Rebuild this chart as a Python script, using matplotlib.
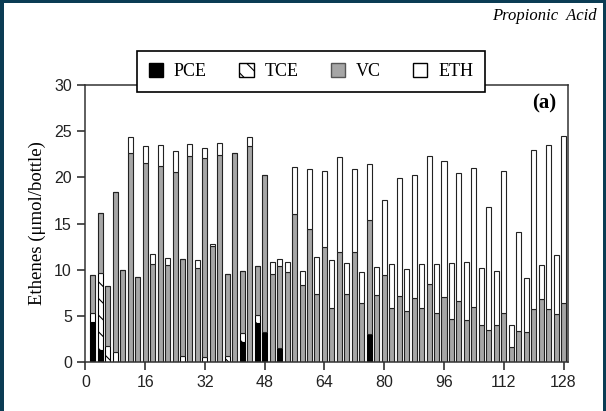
import numpy as np
import matplotlib.pyplot as plt
from matplotlib.patches import Patch, Rectangle

# sampling days (every 2 days)
days = list(range(2, 130, 2))

# ethene species, umol/bottle
pce = [4.3, 1.3, 0, 0, 0, 0, 0, 0, 0, 0, 0, 0, 0, 0, 0, 0,
       0, 0, 0, 0, 2.2, 0, 4.2, 3.3, 0, 1.5, 0, 0, 0, 0, 0, 0,
       0, 0, 0, 0, 0, 3.0, 0, 0, 0, 0, 0, 0, 0, 0, 0, 0,
       0, 0, 0, 0, 0, 0, 0, 0, 0, 0, 0, 0, 0, 0, 0, 0]
tce = [1.0, 8.3, 1.7, 1.1, 0, 0, 0, 0, 0, 0, 0, 0, 0.6, 0, 0, 0.5,
       0, 0, 0.7, 0, 0.9, 0, 0.9, 0, 0, 0, 0, 0, 0, 0, 0, 0,
       0, 0, 0, 0, 0, 0, 0, 0, 0, 0, 0, 0, 0, 0, 0, 0,
       0, 0, 0, 0, 0, 0, 0, 0, 0, 0, 0, 0, 0, 0, 0, 0]
vc = [4.1, 6.5, 6.5, 17.3, 10.0, 22.6, 9.2, 21.6, 10.6, 21.2, 10.5, 20.6, 10.6, 22.3, 10.2, 21.6,
      12.6, 22.4, 8.8, 22.6, 6.8, 23.4, 5.3, 16.9, 9.5, 8.9, 9.8, 16.0, 8.3, 14.4, 7.4, 12.5,
      5.8, 11.9, 7.4, 11.9, 6.4, 12.4, 7.3, 9.4, 5.8, 7.2, 5.5, 6.9, 5.8, 8.4, 5.3, 7.0,
      4.7, 6.6, 4.5, 6.0, 4.0, 3.5, 4.0, 5.3, 1.6, 3.4, 3.3, 5.7, 6.8, 5.7, 5.2, 6.4]
eth = [0, 0, 0, 0, 0, 1.8, 0, 1.8, 1.1, 2.3, 0.8, 2.3, 0, 1.3, 0.8, 1.1,
       0.2, 1.3, 0, 0, 0, 1.0, 0, 0, 1.3, 0.8, 1.0, 5.1, 1.6, 6.5, 4.0, 8.2,
       5.2, 10.3, 3.3, 9.0, 3.3, 6.0, 3.0, 8.1, 4.8, 12.7, 4.6, 13.3, 4.8, 13.9, 5.3, 14.8,
       6.0, 13.9, 6.3, 15.0, 6.2, 13.3, 5.9, 15.4, 2.4, 10.7, 5.8, 17.3, 3.7, 17.8, 6.4, 18.1]

pce = np.array(pce)
tce = np.array(tce)
vc = np.array(vc)
eth = np.array(eth)

serif = ['Liberation Serif', 'DejaVu Serif']
plt.rcParams['hatch.linewidth'] = 0.8

fig = plt.figure(figsize=(6.06, 4.11), dpi=100, facecolor='#0b3c54')
# white page inside the dark frame
fig.patches.append(Rectangle((4 / 606, 0), 1 - 7 / 606, 1 - 3 / 411,
                             transform=fig.transFigure, facecolor='white',
                             edgecolor='none', zorder=-10))

ax = fig.add_axes([85 / 606, 1 - 362 / 411, 483 / 606, 277 / 411])
ax.set_facecolor('white')

w = 1.35
ew = 0.8
ax.bar(days, pce, w, color='black', edgecolor='black', linewidth=ew)
ax.bar(days, tce, w, bottom=pce, color='white', edgecolor='black', hatch='\\\\', linewidth=ew)
ax.bar(days, vc, w, bottom=pce + tce, color='#a6a6a6', edgecolor='#222222', linewidth=ew)
ax.bar(days, eth, w, bottom=pce + tce + vc, color='white', edgecolor='#222222', linewidth=ew)

ax.set_xlim(-0.1, 129.2)
ax.set_ylim(0, 30)
ax.set_xticks(range(0, 129, 16))
ax.set_yticks(range(0, 31, 5))
ax.tick_params(direction='out', length=6, width=1.1, labelsize=11.5, colors='#222222')
for lab in ax.get_xticklabels() + ax.get_yticklabels():
    lab.set_family(['Liberation Sans', 'DejaVu Sans'])
for s in ax.spines.values():
    s.set_linewidth(1.1)
    s.set_color('#333333')

ax.set_ylabel('Ethenes (\u03bcmol/bottle)', family=serif, fontsize=13.5, labelpad=6)
ax.text(0.975, 0.935, '(a)', transform=ax.transAxes, ha='right', va='center',
        family=serif, fontsize=15, fontweight='bold')

fig.text(0.985, 0.96, 'Propionic  Acid', ha='right', va='center',
         family=serif, style='italic', fontsize=12)

handles = [Patch(facecolor='black', edgecolor='black', label='PCE'),
           Patch(facecolor='white', edgecolor='black', hatch='\\\\', label='TCE'),
           Patch(facecolor='#a6a6a6', edgecolor='#555555', label='VC'),
           Patch(facecolor='white', edgecolor='black', label='ETH')]
leg = fig.legend(handles=handles, loc='lower left', ncol=4, mode='expand',
                 bbox_to_anchor=(137 / 606, 1 - 92 / 411, 348 / 606, 40 / 411),
                 borderaxespad=0, prop={'family': serif, 'size': 13},
                 frameon=True, fancybox=False, framealpha=1, edgecolor='black',
                 handlelength=0.8, handleheight=0.8, handletextpad=0.6, borderpad=0.65)
leg.get_frame().set_linewidth(1.2)

fig.savefig('out.png', dpi=100, facecolor=fig.get_facecolor())
